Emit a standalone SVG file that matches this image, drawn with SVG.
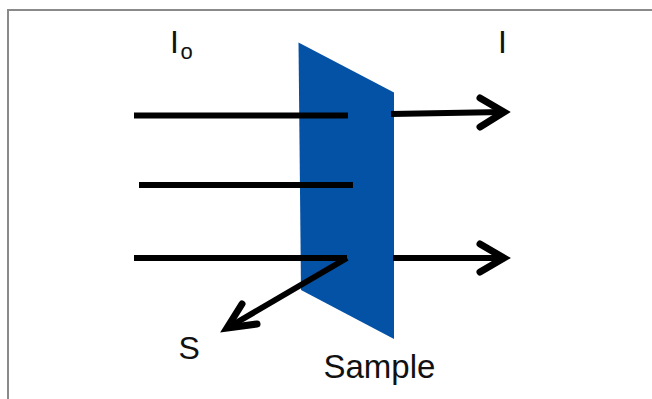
<svg xmlns="http://www.w3.org/2000/svg" width="652" height="399" viewBox="0 0 652 399">
<style>
.ray{stroke:#000;stroke-width:6;fill:none;stroke-linecap:butt}
.head{stroke:#000;stroke-width:7;fill:none;stroke-linecap:round;stroke-linejoin:miter}
.lbl{font-family:"Liberation Sans",Arial,sans-serif;fill:#111}
</style>
<rect x="0" y="0" width="652" height="399" fill="#fff"/>
<path d="M8 399 V10 H652" fill="none" stroke="#8a8a8a" stroke-width="2"/>
<g id="sample">
<polygon points="298.5,42.5 394,92.5 394,339 301,290" fill="#0452a6"/>
<text class="lbl" x="323.5" y="378" font-size="33">Sample</text>
</g>
<g id="connectors">
<line class="ray" x1="134" y1="115.5" x2="348" y2="115.5"/>
<line class="ray" x1="139" y1="185" x2="353" y2="185"/>
<line class="ray" x1="134" y1="258" x2="347" y2="258"/>
<line class="ray" x1="391" y1="114" x2="503" y2="112"/>
<polyline class="head" points="480,98 504,112 480,127"/>
<line class="ray" x1="393" y1="258" x2="503" y2="258"/>
<polyline class="head" points="480,244 504,258 480,272"/>
<line class="ray" x1="347" y1="258" x2="229" y2="327"/>
<polyline class="head" points="242,304 227,328 257,324"/>
</g>
<g id="label-Io">
<text class="lbl" x="170" y="53" font-size="32">I</text>
<text class="lbl" x="180.5" y="59" font-size="22">o</text>
</g>
<g id="label-I">
<text class="lbl" x="498" y="53" font-size="32">I</text>
</g>
<g id="label-S">
<text class="lbl" x="178.5" y="359" font-size="32">S</text>
</g>
</svg>
